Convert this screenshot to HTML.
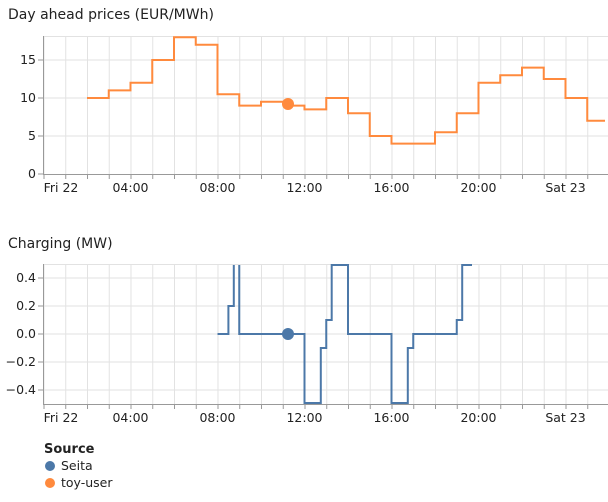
<!DOCTYPE html>
<html><head><meta charset="utf-8"><style>
html,body{margin:0;padding:0;background:#fff;}
svg{display:block;font-family:"DejaVu Sans","Liberation Sans",sans-serif;}
.t{font-size:14px;fill:#222;}
.l{font-size:12.5px;fill:#222;}
</style></head><body>
<svg width="608" height="502" viewBox="0 0 608 502">
<defs>
<pattern id="vg" x="43.5" y="0" width="21.75" height="502" patternUnits="userSpaceOnUse">
<line x1="0.5" y1="0" x2="0.5" y2="502" stroke="#e2e2e2" stroke-width="1"/>
</pattern>
<pattern id="tk" x="43.5" y="0" width="21.75" height="502" patternUnits="userSpaceOnUse">
<line x1="0.5" y1="0" x2="0.5" y2="502" stroke="#999" stroke-width="1"/>
</pattern>
</defs>
<text x="8" y="19" class="t">Day ahead prices (EUR/MWh)</text>
<rect x="43.5" y="36" width="565" height="138" fill="url(#vg)"/>
<g stroke="#e2e2e2">
<line x1="43.5" y1="36.5" x2="608" y2="36.5"/>
<line x1="43.5" y1="60" x2="608" y2="60"/>
<line x1="43.5" y1="98" x2="608" y2="98"/>
<line x1="43.5" y1="136" x2="608" y2="136"/>
</g>
<rect x="43.5" y="174" width="565" height="5" fill="url(#tk)"/>
<line x1="43.5" y1="174.5" x2="608" y2="174.5" stroke="#999"/>
<line x1="43.5" y1="36" x2="43.5" y2="175" stroke="#999"/>
<g stroke="#999"><line x1="38" y1="60" x2="43" y2="60"/><line x1="38" y1="98" x2="43" y2="98"/><line x1="38" y1="136" x2="43" y2="136"/><line x1="38" y1="174" x2="43" y2="174"/></g>
<g class="l" text-anchor="end"><text x="36" y="64">15</text><text x="36" y="102">10</text><text x="36" y="140">5</text><text x="36" y="178">0</text></g>
<g class="l" text-anchor="middle"><text x="61" y="192">Fri 22</text><text x="130.5" y="192">04:00</text><text x="217.5" y="192">08:00</text><text x="304.5" y="192">12:00</text><text x="391.5" y="192">16:00</text><text x="478.5" y="192">20:00</text><text x="565.5" y="192">Sat 23</text></g>
<path fill="none" stroke="#ff8a3d" stroke-width="2" d="M87,98 H108.75 V90.4 H130.5 V82.8 H152.25 V60 H174 V37.2 H195.75 V44.8 H217.5 V94.2 H239.25 V105.6 H261 V101.8 H288.2 V105.6 H304.5 V109.4 H326.25 V98 H348 V113.2 H369.75 V136 H391.5 V143.6 H435 V132.2 H456.75 V113.2 H478.5 V82.8 H500.25 V75.2 H522 V67.6 H543.75 V79 H565.5 V98 H587.25 V120.8 H605"/>
<circle cx="288" cy="104" r="6" fill="#ff8a3d"/>

<text x="8" y="248" class="t">Charging (MW)</text>
<rect x="43.5" y="264" width="565" height="140" fill="url(#vg)"/>
<g stroke="#e2e2e2">
<line x1="43.5" y1="264.5" x2="608" y2="264.5"/>
<line x1="43.5" y1="278" x2="608" y2="278"/>
<line x1="43.5" y1="306" x2="608" y2="306"/>
<line x1="43.5" y1="334" x2="608" y2="334"/>
<line x1="43.5" y1="362" x2="608" y2="362"/>
<line x1="43.5" y1="390" x2="608" y2="390"/>
</g>
<rect x="43.5" y="404" width="565" height="5" fill="url(#tk)"/>
<line x1="43.5" y1="404.5" x2="608" y2="404.5" stroke="#999"/>
<line x1="43.5" y1="264" x2="43.5" y2="405" stroke="#999"/>
<g stroke="#999"><line x1="38" y1="278" x2="43" y2="278"/><line x1="38" y1="306" x2="43" y2="306"/><line x1="38" y1="334" x2="43" y2="334"/><line x1="38" y1="362" x2="43" y2="362"/><line x1="38" y1="390" x2="43" y2="390"/></g>
<g class="l" text-anchor="end"><text x="36" y="282">0.4</text><text x="36" y="310">0.2</text><text x="36" y="338">0.0</text><text x="36" y="366">−0.2</text><text x="36" y="394">−0.4</text></g>
<g class="l" text-anchor="middle"><text x="61" y="422">Fri 22</text><text x="130.5" y="422">04:00</text><text x="217.5" y="422">08:00</text><text x="304.5" y="422">12:00</text><text x="391.5" y="422">16:00</text><text x="478.5" y="422">20:00</text><text x="565.5" y="422">Sat 23</text></g>
<path fill="none" stroke="#4c78a8" stroke-width="2" d="M217.5,334 H228.4 V306 H233.8 V265 M239.25,265 V334 H304.5 V403 H320.8 V348 H326.25 V320 H331.7 V265 H348 V334 H391.5 V403 H407.8 V348 H413.25 V334 H456.75 V320 H462.2 V265 H472"/>
<circle cx="288" cy="334" r="6" fill="#4c78a8"/>

<text x="44" y="453" style="font-size:13px;font-weight:bold;fill:#222">Source</text>
<circle cx="50" cy="466" r="5" fill="#4c78a8"/>
<text x="61" y="470" class="l">Seita</text>
<circle cx="50" cy="483" r="5" fill="#ff8a3d"/>
<text x="61" y="487" class="l">toy-user</text>
</svg>
</body></html>
